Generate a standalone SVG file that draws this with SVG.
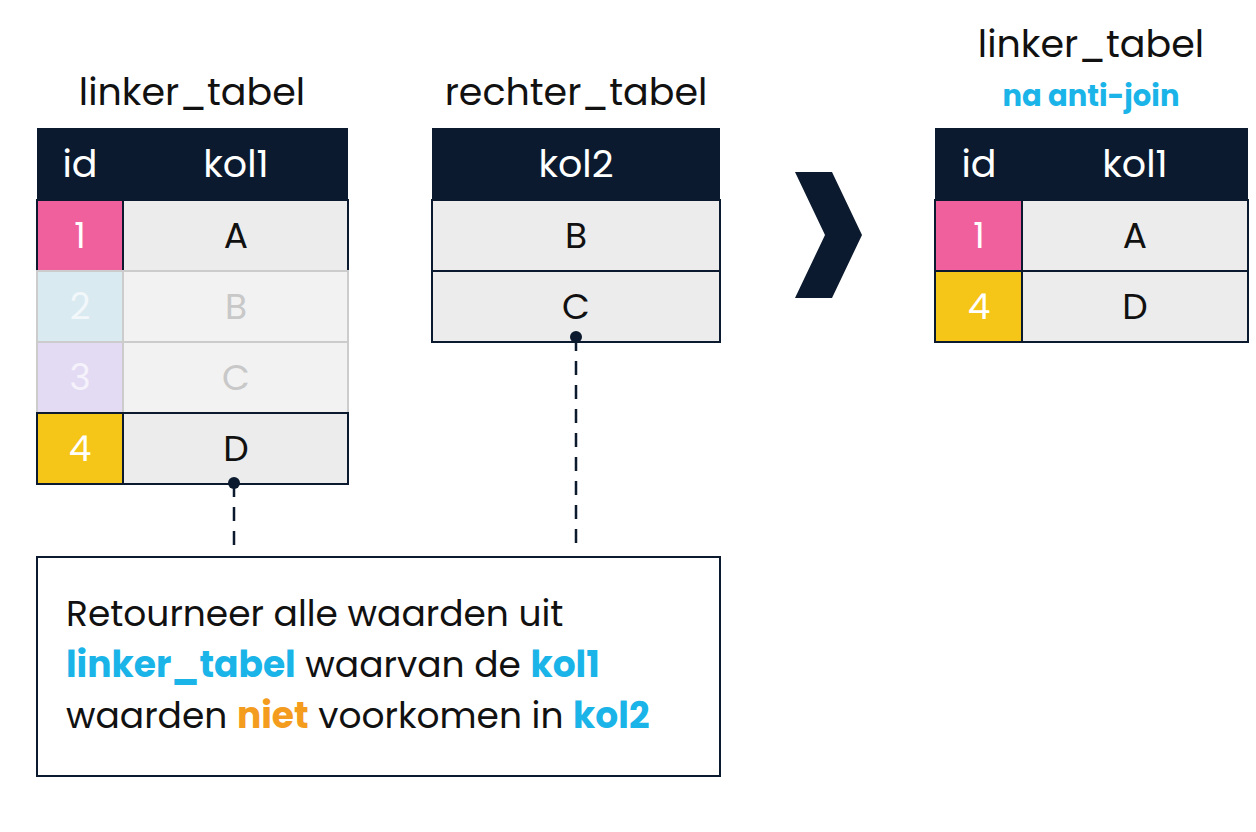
<svg xmlns="http://www.w3.org/2000/svg" width="1256" height="832" viewBox="0 0 1256 832">
<style>
text{font-family:"Poppins","Inter","Liberation Sans",sans-serif}
.t{font-size:38px;fill:#111;text-anchor:middle}
.h{fill:#0b1a2e}
.hd{font-size:38px;fill:#fff;text-anchor:middle}
.c{fill:#ececec;stroke:#0b1a2e;stroke-width:2}
.cv{font-size:36px;fill:#111;text-anchor:middle}
.b{fill:#1ab4e8;font-weight:bold}
.o{fill:#f39c1e;font-weight:bold}
.dash{stroke:#0b1a2e;stroke-width:2.5;stroke-dasharray:14,10;fill:none}
</style>
<rect width="1256" height="832" fill="#fff"/>
<g id="linker">
<text class="t" x="192" y="105">linker_tabel</text>
<rect class="h" x="37" y="128" width="311" height="72"/>
<text class="hd" x="80" y="177">id</text><text class="hd" x="236" y="177">kol1</text>
<rect class="c" x="37" y="200" width="311" height="71"/><rect x="37" y="200" width="86" height="71" fill="#f0609c" stroke="#0b1a2e" stroke-width="2"/>
<text class="cv" x="80" y="248" fill="#fff" style="fill:#fff">1</text><text class="cv" x="236" y="248">A</text>
<rect x="37" y="271" width="311" height="71" fill="#f2f2f2" stroke="#ccc" stroke-width="2"/><rect x="37" y="271" width="86" height="71" fill="#d9eaf1" stroke="#ccc" stroke-width="2"/>
<text class="cv" x="80" y="319" style="fill:#f2f7fa">2</text><text class="cv" x="236" y="319" style="fill:#c8c8c8">B</text>
<rect x="37" y="342" width="311" height="71" fill="#f2f2f2" stroke="#ccc" stroke-width="2"/><rect x="37" y="342" width="86" height="71" fill="#e3dbf3" stroke="#ccc" stroke-width="2"/>
<text class="cv" x="80" y="390" style="fill:#f5f2fb">3</text><text class="cv" x="236" y="390" style="fill:#c8c8c8">C</text>
<rect class="c" x="37" y="413" width="311" height="71"/><rect x="37" y="413" width="86" height="71" fill="#f5c518" stroke="#0b1a2e" stroke-width="2"/>
<text class="cv" x="80" y="461" style="fill:#fff">4</text><text class="cv" x="236" y="461">D</text>
</g>
<g id="rechter">
<text class="t" x="576" y="105">rechter_tabel</text>
<rect class="h" x="432" y="128" width="288" height="72"/>
<text class="hd" x="576" y="177">kol2</text>
<rect class="c" x="432" y="200" width="288" height="71"/><text class="cv" x="576" y="248">B</text>
<rect class="c" x="432" y="271" width="288" height="71"/><text class="cv" x="576" y="319">C</text>
</g>
<g id="chevron"><polygon points="795,172 832,172 862,235 832,298 795,298 825,235" fill="#0b1a2e"/></g>
<g id="result">
<text class="t" x="1091" y="57">linker_tabel</text>
<text x="1091" y="106" text-anchor="middle" font-size="29" class="b">na anti-join</text>
<rect class="h" x="935" y="128" width="313" height="72"/>
<text class="hd" x="979" y="177">id</text><text class="hd" x="1135" y="177">kol1</text>
<rect class="c" x="935" y="200" width="313" height="71"/><rect x="935" y="200" width="87" height="71" fill="#f0609c" stroke="#0b1a2e" stroke-width="2"/>
<text class="cv" x="979" y="248" style="fill:#fff">1</text><text class="cv" x="1135" y="248">A</text>
<rect class="c" x="935" y="271" width="313" height="71"/><rect x="935" y="271" width="87" height="71" fill="#f5c518" stroke="#0b1a2e" stroke-width="2"/>
<text class="cv" x="979" y="319" style="fill:#fff">4</text><text class="cv" x="1135" y="319">D</text>
</g>
<g id="connectors">
<line class="dash" x1="234" y1="483" x2="234" y2="552"/>
<line class="dash" x1="576" y1="337" x2="576" y2="550"/>
<circle cx="234" cy="483" r="6" fill="#0b1a2e"/>
<circle cx="576" cy="337" r="6" fill="#0b1a2e"/>
</g>
<g id="note">
<rect x="37" y="557" width="683" height="219" fill="#fff" stroke="#0b1a2e" stroke-width="2"/>
<text x="66" y="626" font-size="36" fill="#111">Retourneer alle waarden uit</text>
<text x="66" y="677" font-size="36" fill="#111"><tspan class="b">linker_tabel</tspan> waarvan de <tspan class="b">kol1</tspan></text>
<text x="66" y="728" font-size="36" fill="#111">waarden <tspan class="o">niet</tspan> voorkomen in <tspan class="b">kol2</tspan></text>
</g>
</svg>
